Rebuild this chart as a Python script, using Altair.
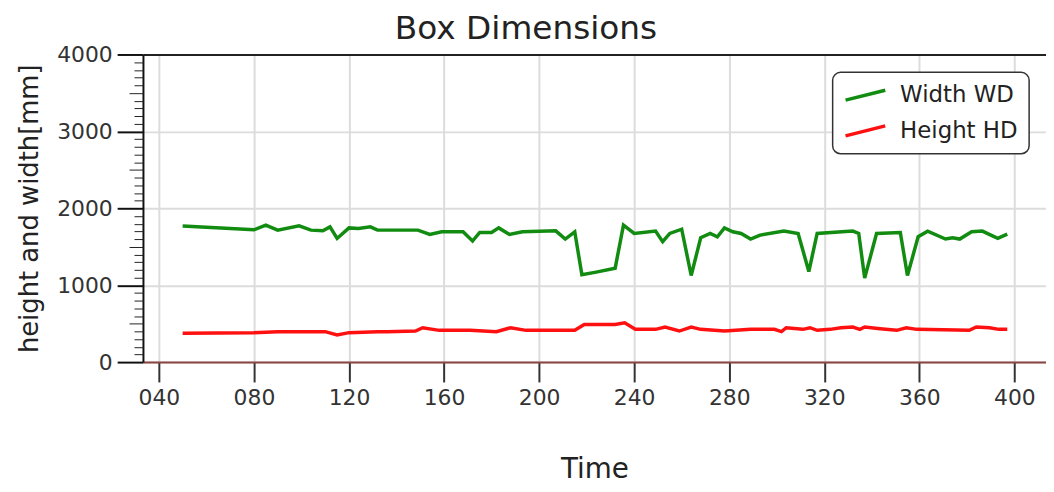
import altair as alt
import pandas as pd

# ---- data ----
width_time = [50, 80, 85, 90, 99, 104, 109, 112, 115, 120,
              124, 129, 132, 136, 149, 154, 159, 168, 172, 175,
              180, 183, 187.5, 193, 207, 211, 215, 218, 224, 232,
              235.5, 240, 249, 252, 255, 260, 264, 268, 272, 275,
              278, 281.5, 285, 289, 293, 303, 309, 313.5, 317, 332,
              334.5, 337, 342, 352, 355, 359.5, 363.5, 371, 374, 377,
              382, 386.5, 393, 397]
width_mm = [1770, 1720, 1780, 1716, 1772, 1716, 1707, 1758, 1608, 1745,
            1737, 1758, 1716, 1716, 1716, 1660, 1694, 1694, 1574, 1686,
            1686, 1745, 1660, 1694, 1707, 1600, 1694, 1135, 1170, 1221,
            1780, 1673, 1703, 1565, 1673, 1728, 1126, 1617, 1673, 1630,
            1745, 1694, 1673, 1600, 1651, 1703, 1673, 1178, 1673, 1703,
            1673, 1092, 1673, 1686, 1126, 1630, 1703, 1600, 1617, 1600,
            1694, 1703, 1608, 1664]

height_time = [50, 80, 90, 110, 115, 120, 132, 136, 148, 151,
               158, 171, 182, 188, 194.5, 215, 219, 232, 236, 240.5,
               249, 253, 259, 264, 268, 278, 289, 299, 302, 304,
               311, 314, 317, 322.5, 327, 332, 335, 337, 343.5, 350.5,
               354.5, 359, 381, 384, 389.5, 393.5, 397]
height_mm = [374, 383, 396, 396, 352, 383, 396, 396, 404, 447,
             413, 413, 396, 447, 413, 413, 490, 490, 512, 426,
             426, 456, 404, 456, 426, 404, 426, 426, 396, 447,
             426, 447, 413, 426, 447, 456, 426, 456, 434, 413,
             447, 426, 413, 456, 447, 426, 426]

series_names = ["Width WD", "Height HD"]
series_colors = ["#118c11", "#ff1010"]

x_ticks = [40, 80, 120, 160, 200, 240, 280, 320, 360, 400]
y_ticks = [0, 1000, 2000, 3000, 4000]
y_minor = [v for v in range(100, 4000, 100) if v % 500 != 0]
y_half = [500, 1500, 2500, 3500]

df = pd.concat([
    pd.DataFrame({"time": width_time, "value": width_mm, "series": series_names[0]}),
    pd.DataFrame({"time": height_time, "value": height_mm, "series": series_names[1]}),
])

FONT = "DejaVu Sans"
xscale = alt.Scale(domain=[33.3, 413.3], nice=False, zero=False)
yscale = alt.Scale(domain=[0, 4000], nice=False)

base = alt.Chart(df)

lines = base.mark_line(strokeWidth=3.5).encode(
    x=alt.X("time:Q", scale=xscale, title="Time",
            axis=alt.Axis(values=x_ticks, format="03d", tickSize=20, tickWidth=2,
                          tickColor="#333", domainColor="#8c4646", domainWidth=2,
                          grid=True, gridColor="#dcdcdc", gridWidth=2,
                          labelFont=FONT, labelFontSize=22, labelColor="#333",
                          labelPadding=6, labelFlush=False, labelOverlap=False,
                          titleFont=FONT, titleFontSize=28, titleFontWeight="normal",
                          titleColor="#222", titlePadding=47)),
    y=alt.Y("value:Q", scale=yscale, title="height and width[mm]",
            axis=alt.Axis(values=y_ticks, format="d", tickSize=26, tickWidth=2,
                          tickColor="#111", domainColor="#111", domainWidth=2,
                          grid=True, gridColor="#dcdcdc", gridWidth=2,
                          labelFont=FONT, labelFontSize=22, labelColor="#333",
                          labelPadding=5, labelFlush=False, labelOverlap=False,
                          titleFont=FONT, titleFontSize=26, titleFontWeight="normal",
                          titleColor="#222", titlePadding=14)),
    color=alt.Color("series:N",
                    scale=alt.Scale(domain=series_names, range=series_colors),
                    legend=alt.Legend(orient="none", legendX=695, legendY=18, title=None,
                                      symbolType="M-1,0.5L3,-0.5", symbolSize=400,
                                      symbolStrokeWidth=3.5,
                                      labelFont=FONT, labelFontSize=23, labelColor="#222",
                                      labelOffset=33, rowPadding=12, padding=11,
                                      fillColor="white", strokeColor="#333",
                                      cornerRadius=8)),
    detail="series:N",
)

minor = base.mark_line(strokeOpacity=0).encode(
    x=alt.X("time:Q", scale=xscale, axis=None),
    y=alt.Y("value:Q", scale=yscale,
            axis=alt.Axis(orient="left", values=y_minor, tickSize=9, tickWidth=1,
                          tickColor="#222", labels=False, domain=False, grid=False,
                          title=None)),
    detail="series:N",
)

half = base.mark_line(strokeOpacity=0).encode(
    x=alt.X("time:Q", scale=xscale, axis=None),
    y=alt.Y("value:Q", scale=yscale,
            axis=alt.Axis(orient="left", values=y_half, tickSize=14, tickWidth=1,
                          tickColor="#222", labels=False, domain=False, grid=False,
                          title=None)),
    detail="series:N",
)

top = base.mark_line(strokeOpacity=0).encode(
    x=alt.X("time:Q", scale=xscale,
            axis=alt.Axis(orient="top", ticks=False, labels=False, grid=False,
                          domain=True, domainColor="#222", domainWidth=2, title=None)),
    y=alt.Y("value:Q", scale=yscale, axis=None),
    detail="series:N",
)

chart = alt.layer(lines, minor, half, top).resolve_axis(
    x="independent", y="independent"
).properties(
    width=910, height=310,
    autosize=alt.AutoSizeParams(type="none"),
    padding={"left": 136, "top": 45, "right": 0, "bottom": 121},
    title=alt.Title("Box Dimensions", font=FONT, fontSize=33, fontWeight="normal",
                    color="#222", anchor="middle", dx=-69, baseline="bottom",
                    offset=14, dy=49),
).configure_view(stroke=None).configure_legend(strokeWidth=1.5)

chart.save("out.html", embed_options={"renderer": "svg", "actions": False})
